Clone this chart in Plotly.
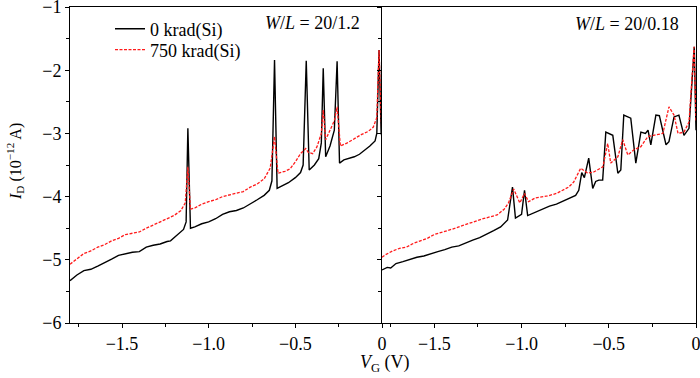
import plotly.graph_objects as go

# Left panel (W/L = 20/1.2)
left_v0 = [-1.80, -1.76, -1.72, -1.68, -1.64, -1.60, -1.56, -1.52, -1.48, -1.44, -1.40, -1.36, -1.32, -1.28,
           -1.24, -1.22, -1.20, -1.17, -1.145, -1.13, -1.12, -1.105, -1.08, -1.04, -1.00, -0.96, -0.92, -0.88,
           -0.84, -0.80, -0.76, -0.72, -0.68, -0.65, -0.635, -0.62, -0.605, -0.58, -0.54, -0.50, -0.47, -0.455,
           -0.437, -0.42, -0.39, -0.365, -0.35, -0.339, -0.325, -0.30, -0.275, -0.259, -0.245, -0.22, -0.19,
           -0.16, -0.13, -0.10, -0.07, -0.04, -0.03, -0.017, -0.005, 0.0]
left_i0 = [-5.33, -5.24, -5.17, -5.15, -5.10, -5.05, -4.99, -4.93, -4.90, -4.88, -4.87, -4.80, -4.77, -4.75,
           -4.71, -4.70, -4.65, -4.58, -4.52, -4.40, -2.92, -4.50, -4.48, -4.43, -4.40, -4.35, -4.28, -4.24,
           -4.22, -4.18, -4.12, -4.05, -3.98, -3.90, -3.75, -1.84, -3.87, -3.83, -3.78, -3.70, -3.62, -3.50,
           -1.85, -3.58, -3.50, -3.40, -3.15, -1.97, -3.37, -3.20, -2.95, -1.86, -3.47, -3.42, -3.40,
           -3.37, -3.33, -3.27, -3.20, -3.12, -3.00, -1.68, -3.00, -3.05]

left_v750 = [-1.80, -1.76, -1.72, -1.68, -1.64, -1.60, -1.56, -1.52, -1.48, -1.44, -1.40, -1.36, -1.32, -1.28,
             -1.24, -1.20, -1.16, -1.135, -1.12, -1.105, -1.08, -1.04, -1.00, -0.96, -0.92, -0.88, -0.84, -0.80,
             -0.76, -0.72, -0.68, -0.645, -0.62, -0.60, -0.56, -0.53, -0.50, -0.47, -0.44, -0.425, -0.40, -0.375,
             -0.35, -0.339, -0.325, -0.30, -0.275, -0.259, -0.24, -0.20, -0.16, -0.12, -0.08, -0.05, -0.03,
             -0.017, -0.008, 0.0]
left_i750 = [-5.07, -4.98, -4.90, -4.86, -4.80, -4.76, -4.70, -4.66, -4.60, -4.58, -4.56, -4.50, -4.45, -4.41,
             -4.35, -4.30, -4.22, -4.10, -3.53, -4.20, -4.18, -4.12, -4.08, -4.05, -4.00, -3.97, -3.95, -3.92,
             -3.85, -3.80, -3.72, -3.55, -3.05, -3.63, -3.60, -3.56, -3.45, -3.32, -3.24, -3.30, -3.32, -3.21,
             -3.00, -2.63, -3.10, -2.95, -2.80, -2.58, -3.20, -3.15, -3.08, -3.02, -2.97, -2.90, -2.75,
             -1.68, -2.50, -3.05]

# Right panel (W/L = 20/0.18)
right_v0 = [-1.80, -1.77, -1.75, -1.72, -1.68, -1.64, -1.60, -1.56, -1.52, -1.48, -1.44, -1.40, -1.36, -1.32,
            -1.28, -1.24, -1.20, -1.16, -1.12, -1.08, -1.052, -1.035, -1.00, -0.983, -0.965, -0.94, -0.908,
            -0.87, -0.84, -0.80, -0.76, -0.718, -0.69, -0.672, -0.655, -0.64, -0.615, -0.592, -0.575, -0.557,
            -0.535, -0.517, -0.477, -0.448, -0.431, -0.414, -0.374, -0.345, -0.316, -0.29, -0.275, -0.259,
            -0.23, -0.21, -0.172, -0.155, -0.126, -0.098, -0.069, -0.04, -0.017, -0.01, 0.0]
right_i0 = [-5.16, -5.12, -5.13, -5.06, -5.03, -4.99, -4.96, -4.94, -4.90, -4.87, -4.84, -4.80, -4.78, -4.73,
            -4.69, -4.65, -4.60, -4.54, -4.48, -4.37, -3.85, -4.34, -4.28, -3.90, -4.30, -4.27, -4.22,
            -4.18, -4.15, -4.12, -4.07, -4.02, -3.98, -3.90, -3.62, -3.70, -3.39, -3.87, -3.76, -3.74,
            -3.74, -2.98, -3.03, -3.63, -3.58, -2.71, -2.76, -3.47, -2.98, -3.00, -2.95, -3.18,
            -2.71, -2.72, -3.18, -3.13, -2.74, -2.71, -3.03, -2.92, -1.95, -1.63, -2.95]

right_v750 = [-1.80, -1.78, -1.74, -1.70, -1.66, -1.62, -1.58, -1.54, -1.50, -1.46, -1.42, -1.38, -1.34, -1.30,
              -1.26, -1.22, -1.18, -1.14, -1.10, -1.075, -1.045, -1.01, -0.983, -0.96, -0.92, -0.88, -0.851,
              -0.80, -0.76, -0.73, -0.701, -0.661, -0.621, -0.586, -0.534, -0.506, -0.489, -0.448, -0.420,
              -0.391, -0.356, -0.316, -0.276, -0.241, -0.190, -0.155, -0.126, -0.103, -0.069, -0.040, -0.011, 0.0]
right_i750 = [-4.96, -4.92, -4.86, -4.82, -4.80, -4.74, -4.70, -4.66, -4.60, -4.57, -4.53, -4.50, -4.46, -4.42,
              -4.38, -4.35, -4.32, -4.29, -4.20, -4.10, -3.88, -4.10, -3.95, -4.08, -4.02, -4.00, -3.99,
              -3.95, -3.90, -3.85, -3.77, -3.55, -3.63, -3.61, -3.53, -3.16, -3.47, -3.37, -3.10,
              -3.34, -3.26, -3.21, -3.05, -3.03, -3.00, -2.58, -2.71, -3.00, -2.98, -2.82, -1.63, -2.80]

x_tickvals = [-1.5, -1.0, -0.5, 0.0]
x_ticktext = ["\u22121.5", "\u22121.0", "\u22120.5", "0"]
y_tickvals = [-6, -5, -4, -3, -2, -1]
y_ticktext = ["\u22126", "\u22125", "\u22124", "\u22123", "\u22122", "\u22121"]

FONT = "Liberation Serif, Times New Roman, serif"
FS = 18
black_line = dict(color="black", width=1.4)
red_line = dict(color="#ff1a1a", width=1.3, dash="3px,1.5px")

fig = go.Figure()
fig.add_trace(go.Scatter(x=left_v0, y=left_i0, mode="lines", line=black_line,
                         name="0 krad(Si)", xaxis="x", yaxis="y", legend="legend"))
fig.add_trace(go.Scatter(x=left_v750, y=left_i750, mode="lines", line=red_line,
                         name="750 krad(Si)", xaxis="x", yaxis="y", legend="legend2"))
fig.add_trace(go.Scatter(x=right_v0, y=right_i0, mode="lines", line=black_line,
                         showlegend=False, xaxis="x2", yaxis="y2"))
fig.add_trace(go.Scatter(x=right_v750, y=right_i750, mode="lines", line=red_line,
                         showlegend=False, xaxis="x2", yaxis="y2"))

split = (382 - 70) / (696 - 70)
tickfont = dict(family=FONT, size=FS, color="black")
xcommon = dict(range=[-1.8, 0], tickvals=x_tickvals, ticktext=x_ticktext, ticks="outside", ticklen=4,
               tickwidth=1, tickcolor="black", showline=True, linecolor="black", linewidth=1,
               mirror=True, showgrid=False, zeroline=False, automargin=False, ticklabeloverflow="allow",
               minor=dict(dtick=0.25, tick0=0, ticks="outside", ticklen=3, tickcolor="black", showgrid=False),
               tickfont=tickfont)
ycommon = dict(range=[-6, -1], tickvals=y_tickvals, ticks="outside", ticklen=4, tickwidth=1,
               tickcolor="black", showline=True, linecolor="black", linewidth=1,
               showgrid=False, zeroline=False, automargin=False, ticklabeloverflow="allow",
               minor=dict(dtick=0.5, tick0=0, ticks="outside", ticklen=3, tickcolor="black", showgrid=False),
               tickfont=tickfont)

legend_common = dict(xanchor="left", yanchor="middle", bgcolor="rgba(0,0,0,0)",
                     font=dict(family=FONT, size=FS, color="black"), itemwidth=30)

fig.update_layout(
    width=700, height=378,
    margin=dict(l=70, r=4, t=7, b=55),
    paper_bgcolor="white", plot_bgcolor="white",
    font=dict(family=FONT, size=FS, color="black"),
    xaxis=dict(domain=[0, split], anchor="y", **xcommon),
    yaxis=dict(domain=[0, 1], anchor="x", ticktext=y_ticktext, mirror=False, **ycommon),
    xaxis2=dict(domain=[split, 1], anchor="y2", **xcommon),
    yaxis2=dict(domain=[0, 1], anchor="x2", showticklabels=False, mirror=True, **ycommon),
    legend=dict(x=(110 - 70) / 626, y=1 - (29 - 7) / 316, **legend_common),
    legend2=dict(x=(110 - 70) / 626, y=1 - (50 - 7) / 316, **legend_common),
    showlegend=True,
)

def ann(text, px, py, size=FS, angle=0):
    fig.add_annotation(text=text, xref="paper", yref="paper",
                       x=(px - 70) / 626, y=1 - (py - 7) / 316, showarrow=False,
                       xanchor="center", yanchor="middle", textangle=angle,
                       font=dict(family=FONT, size=size, color="black"))

ann("<i>W</i>/<i>L</i> = 20/1.2", 312, 23)
ann("<i>W</i>/<i>L</i> = 20/0.18", 627, 24)
ann("<i>V</i><sub>G</sub> (V)", 385, 363)
ann("<i>I</i><sub>D</sub> (10<sup>\u221212</sup> A)", 15, 162, size=16, angle=-90)

fig.write_html("out.html", config={"displayModeBar": False},
               post_script="document.body.style.margin='0';document.body.style.padding='0';")
